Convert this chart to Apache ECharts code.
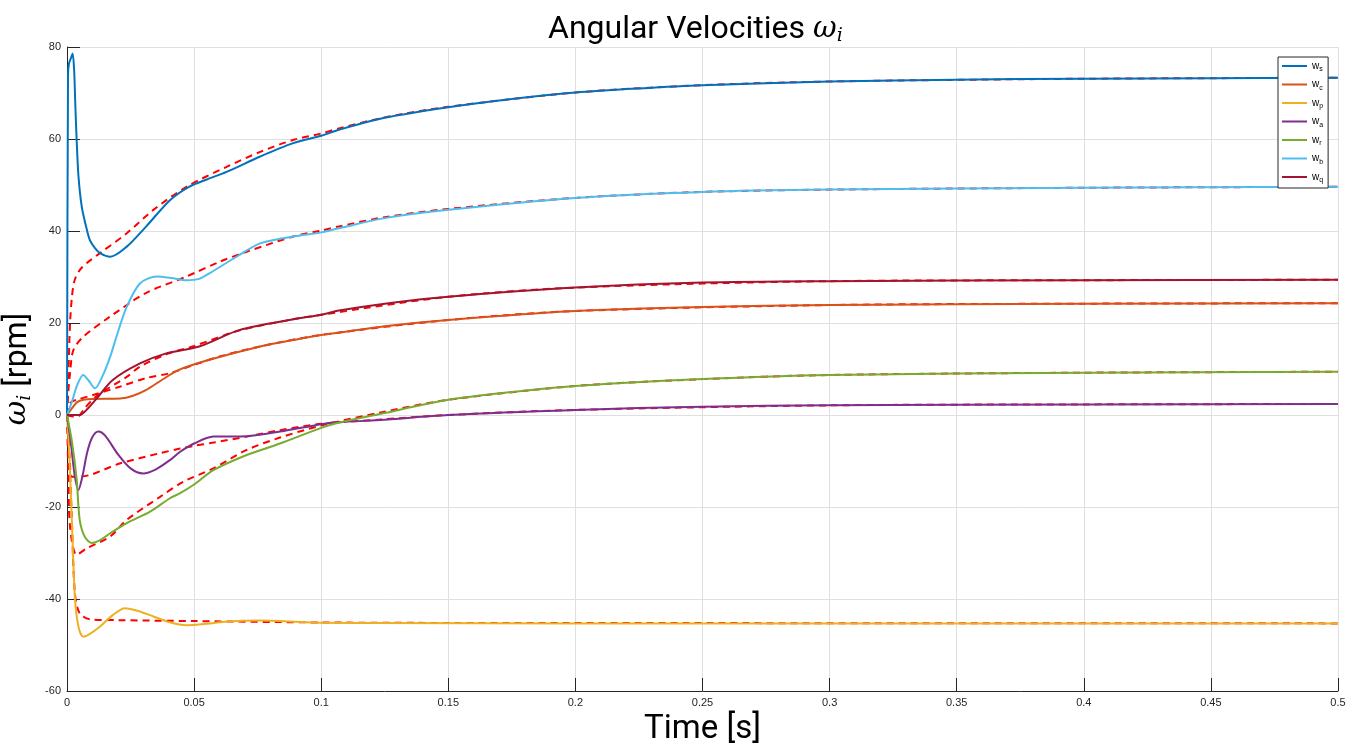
<!DOCTYPE html>
<html>
<head>
<meta charset="utf-8">
<script src="https://cdn.jsdelivr.net/npm/echarts@6/dist/echarts.min.js"></script>
<style>html,body{margin:0;padding:0;background:#fff;}#chart{width:1356px;height:754px;}</style>
</head>
<body>
<div id="chart"></div>
<script>
// ---- tick labels ----
const xTicks = [0, 0.05, 0.1, 0.15, 0.2, 0.25, 0.3, 0.35, 0.4, 0.45, 0.5];
const yTicks = [-60, -40, -20, 0, 20, 40, 60, 80];

// ---- legend ----
const seriesNames = ['ws', 'wc', 'wp', 'wa', 'wr', 'wb', 'wq'];
const subscripts = ['s', 'c', 'p', 'a', 'r', 'b', 'q'];

// ---- w_s ----
const wsT = [0, 0.0004, 0.0008, 0.0015, 0.0022, 0.0028, 0.0033, 0.0038, 0.0045, 0.0058, 0.0075, 0.009, 0.011, 0.013, 0.017, 0.0235, 0.031, 0.0405, 0.048, 0.055, 0.063, 0.076, 0.089, 0.1, 0.107, 0.125, 0.15, 0.175, 0.2, 0.225, 0.25, 0.3, 0.35, 0.4, 0.45, 0.5];
const wsV = [0, 74, 76.5, 77.5, 78.6, 75, 67, 59.8, 52, 45.3, 41, 38, 36.3, 35.2, 34.4, 36.6, 40.9, 46.7, 49.6, 51.2, 52.9, 56.2, 59.1, 60.7, 62, 64.6, 66.9, 68.7, 70.1, 71, 71.7, 72.5, 72.9, 73.1, 73.2, 73.3];
const wsRefT = [0, 0.0005, 0.0012, 0.002, 0.003, 0.005, 0.0077, 0.013, 0.0235, 0.034, 0.047, 0.063, 0.076, 0.089, 0.1, 0.107, 0.125, 0.15, 0.2, 0.25, 0.3, 0.4, 0.5];
const wsRefV = [0, 8, 20, 26, 29.3, 31.5, 33, 35.2, 39.5, 44.6, 49.6, 54, 57.2, 59.8, 61.2, 62.3, 64.7, 67, 70.1, 71.7, 72.5, 73.1, 73.3];

// ---- w_c ----
const wcT = [0, 0.002, 0.004, 0.0064, 0.01, 0.021, 0.026, 0.031, 0.037, 0.044, 0.056, 0.076, 0.089, 0.1, 0.107, 0.125, 0.15, 0.2, 0.25, 0.3, 0.4, 0.5];
const wcV = [0, 1.5, 2.8, 3.3, 3.5, 3.6, 4.2, 5.4, 7.5, 9.8, 12, 14.9, 16.3, 17.4, 17.9, 19.3, 20.65, 22.6, 23.5, 23.9, 24.2, 24.3];
const wcRefT = [0, 0.0012, 0.005, 0.01, 0.021, 0.031, 0.0405, 0.05, 0.06, 0.076, 0.1, 0.15, 0.2, 0.3, 0.4, 0.5];
const wcRefV = [0, 2.6, 3.5, 4.3, 6.2, 8, 9.1, 10.9, 12.7, 14.9, 17.4, 20.65, 22.6, 23.9, 24.2, 24.3];

// ---- w_p ----
const wpT = [0, 0.001, 0.0018, 0.0031, 0.0045, 0.0064, 0.009, 0.013, 0.018, 0.0228, 0.028, 0.034, 0.04, 0.047, 0.055, 0.063, 0.076, 0.0956, 0.12, 0.2, 0.3, 0.4, 0.5];
const wpV = [0, -10, -21.4, -39.5, -46, -48.2, -47.6, -46, -43.5, -42, -42.6, -43.8, -45, -45.7, -45.4, -44.9, -44.7, -45.1, -45.2, -45.3, -45.3, -45.3, -45.3];
const wpRefT = [0, 0.001, 0.0018, 0.0031, 0.005, 0.009, 0.02, 0.05, 0.1, 0.15, 0.5];
const wpRefV = [0, -10, -21, -38.8, -43.1, -44.4, -44.6, -44.8, -45.1, -45.2, -45.3];

// ---- w_a ----
const waT = [0, 0.0015, 0.003, 0.0045, 0.006, 0.008, 0.01, 0.0123, 0.015, 0.02, 0.025, 0.03, 0.035, 0.0405, 0.0445, 0.05, 0.0576, 0.0707, 0.0838, 0.1, 0.106, 0.123, 0.15, 0.2, 0.25, 0.3, 0.4, 0.5];
const waV = [0, -6, -13, -16.3, -13.5, -8, -4.8, -3.6, -4.5, -8.5, -11.6, -12.7, -11.8, -9.8, -8, -6.2, -4.7, -4.6, -3.6, -2, -1.6, -1.1, 0, 1.1, 1.8, 2.1, 2.3, 2.4];
const waRefT = [0, 0.0005, 0.0012, 0.0018, 0.005, 0.021, 0.0366, 0.0445, 0.05, 0.0576, 0.0707, 0.0838, 0.1, 0.123, 0.15, 0.2, 0.3, 0.4, 0.5];
const waRefV = [0, -5, -11, -13.4, -13.4, -10.5, -8.3, -7.3, -6.7, -6, -4.7, -3.3, -1.9, -1.0, 0, 1.1, 2.1, 2.3, 2.4];

// ---- w_r ----
const wrT = [0, 0.002, 0.0038, 0.005, 0.007, 0.0097, 0.013, 0.017, 0.0235, 0.0327, 0.0405, 0.0445, 0.05, 0.0576, 0.0707, 0.0838, 0.1, 0.106, 0.123, 0.15, 0.175, 0.2, 0.25, 0.3, 0.4, 0.5];
const wrV = [0, -6, -14, -22.8, -26.5, -27.8, -27.2, -25.7, -23.5, -21, -18.1, -17, -15.1, -12, -8.7, -6.2, -2.8, -1.8, 0.2, 3.3, 5, 6.3, 7.8, 8.7, 9.2, 9.4];
const wrRefT = [0, 0.0005, 0.0012, 0.0038, 0.0077, 0.017, 0.0235, 0.0366, 0.0458, 0.0576, 0.0707, 0.0838, 0.1, 0.123, 0.15, 0.2, 0.25, 0.3, 0.4, 0.5];
const wrRefV = [0, -12, -24.3, -30.4, -29, -26.4, -22.8, -17.8, -14.5, -11.6, -7.6, -4.9, -2.3, 0.5, 3.3, 6.3, 7.8, 8.7, 9.2, 9.4];

// ---- w_b ----
const wbT = [0, 0.002, 0.004, 0.0064, 0.0085, 0.011, 0.014, 0.017, 0.02, 0.0235, 0.0287, 0.0353, 0.041, 0.047, 0.052, 0.056, 0.0667, 0.076, 0.089, 0.1, 0.107, 0.125, 0.15, 0.2, 0.25, 0.3, 0.4, 0.5];
const wbV = [0, 3, 6.5, 8.7, 7.5, 5.8, 8.5, 12.7, 18, 23.5, 28.6, 30.1, 29.8, 29.3, 29.6, 30.8, 34.4, 37.3, 38.8, 39.7, 40.6, 42.8, 44.6, 47.2, 48.5, 49, 49.4, 49.6];
const wbRefT = [0, 0.0005, 0.0012, 0.0025, 0.0064, 0.017, 0.031, 0.047, 0.06, 0.0707, 0.089, 0.1, 0.107, 0.125, 0.15, 0.2, 0.25, 0.3, 0.4, 0.5];
const wbRefV = [0, 5, 9.1, 14.1, 17, 21.4, 26.5, 30.1, 33.3, 35.5, 38.8, 40.1, 41, 43, 44.8, 47.2, 48.5, 49, 49.4, 49.6];

// ---- w_q ----
const wqT = [0, 0.005, 0.008, 0.0117, 0.018, 0.0287, 0.039, 0.052, 0.068, 0.089, 0.1, 0.107, 0.125, 0.15, 0.2, 0.25, 0.3, 0.4, 0.5];
const wqV = [0, 0, 1.3, 3.6, 7.6, 11.2, 13.4, 14.9, 18.5, 20.8, 21.8, 22.7, 24.2, 25.7, 27.7, 28.8, 29.1, 29.3, 29.4];
const wqRefT = [0, 0.002, 0.004, 0.007, 0.01, 0.013, 0.0235, 0.0287, 0.039, 0.05, 0.068, 0.089, 0.1, 0.15, 0.2, 0.3, 0.4, 0.5];
const wqRefV = [0, -0.3, -0.4, 1.5, 3.3, 4.7, 8.3, 10.5, 13.2, 15, 18.4, 20.8, 21.8, 25.7, 27.7, 29.1, 29.3, 29.4];

const colors = ['#0072BD', '#D95319', '#EDB120', '#7E2F8E', '#77AC30', '#4DBEEE', '#A2142F'];

const solid = [[wsT, wsV], [wcT, wcV], [wpT, wpV], [waT, waV], [wrT, wrV], [wbT, wbV], [wqT, wqV]];
const refs = [[wsRefT, wsRefV], [wcRefT, wcRefV], [wpRefT, wpRefV], [waRefT, waRefV], [wrRefT, wrRefV], [wbRefT, wbRefV], [wqRefT, wqRefV]];

const zip = (t, v) => t.map((x, i) => [x, v[i]]);

const series = [];
refs.forEach((p, i) => {
  series.push({
    name: 'ref_' + subscripts[i], type: 'line', data: zip(p[0], p[1]),
    showSymbol: false, smooth: 0.3, z: 2, silent: true,
    lineStyle: { color: '#FF0000', width: 2, type: [7, 5] }
  });
});
solid.forEach((p, i) => {
  series.push({
    name: seriesNames[i], type: 'line', data: zip(p[0], p[1]),
    showSymbol: false, smooth: 0.3, z: 3, silent: true,
    color: colors[i],
    lineStyle: { color: colors[i], width: 2 }
  });
});

const subMap = {};
seriesNames.forEach((n, i) => subMap[n] = subscripts[i]);

const chart = echarts.init(document.getElementById('chart'), null, { renderer: 'canvas' });
chart.setOption({
  animation: false,
  backgroundColor: '#fff',
  title: {
    text: 'Angular Velocities {w|ω}{i|i}',
    left: 543, top: 8,
    textStyle: {
      fontFamily: 'Roboto', fontSize: 32, fontWeight: 'normal', color: '#000',
      rich: {
        w: { fontFamily: 'DejaVu Serif', fontStyle: 'italic', fontSize: 29, color: '#000' },
        i: { fontFamily: 'DejaVu Serif', fontStyle: 'italic', fontSize: 19, color: '#000', padding: [14, 0, 0, 0] }
      }
    }
  },
  legend: {
    orient: 'vertical', left: 1278, top: 57,
    itemWidth: 25, itemHeight: 2, itemGap: 6.5, icon: 'rect',
    padding: [4, 5, 4, 4],
    borderColor: '#262626', borderWidth: 1, borderRadius: 0, backgroundColor: '#fff',
    selectedMode: false,
    data: seriesNames,
    formatter: n => '{a|w}{b|' + subMap[n] + '}',
    textStyle: {
      rich: {
        a: { fontFamily: 'Liberation Sans', fontSize: 10, color: '#000', lineHeight: 14 },
        b: { fontFamily: 'Liberation Sans', fontSize: 7, color: '#000', padding: [7, 0, 0, 0] }
      }
    }
  },
  grid: { left: 67, right: 18, top: 47, bottom: 63, containLabel: false, outerBoundsMode: 'none' },
  xAxis: {
    type: 'value', min: xTicks[0], max: xTicks[xTicks.length - 1], interval: 0.05,
    name: 'Time [s]', nameLocation: 'middle', nameGap: 21,
    nameTextStyle: { fontFamily: 'Roboto', fontSize: 33, color: '#000' },
    axisLine: { show: true, onZero: false, lineStyle: { color: '#262626', width: 1 } },
    axisTick: { show: true, inside: true, length: 13, lineStyle: { color: '#262626' } },
    axisLabel: { fontFamily: 'Liberation Sans', fontSize: 11, color: '#262626', margin: 6,
      formatter: v => String(Math.round(v * 100) / 100) },
    splitLine: { show: true, lineStyle: { color: '#dfdfdf', width: 1 } }
  },
  yAxis: {
    type: 'value', min: yTicks[0], max: yTicks[yTicks.length - 1], interval: 20,
    name: '{w|ω}{i|i} [rpm]', nameLocation: 'middle', nameGap: 21,
    nameTextStyle: {
      fontFamily: 'Roboto', fontSize: 32, color: '#000',
      rich: {
        w: { fontFamily: 'DejaVu Serif', fontStyle: 'italic', fontSize: 30, color: '#000' },
        i: { fontFamily: 'DejaVu Serif', fontStyle: 'italic', fontSize: 19, color: '#000', padding: [14, 0, 0, 0] }
      }
    },
    axisLine: { show: true, onZero: false, lineStyle: { color: '#262626', width: 1 } },
    axisTick: { show: true, inside: true, length: 13, lineStyle: { color: '#262626' } },
    axisLabel: { fontFamily: 'Liberation Sans', fontSize: 11, color: '#262626', margin: 6 },
    splitLine: { show: true, lineStyle: { color: '#dfdfdf', width: 1 } }
  },
  series: series
});
</script>
</body>
</html>
